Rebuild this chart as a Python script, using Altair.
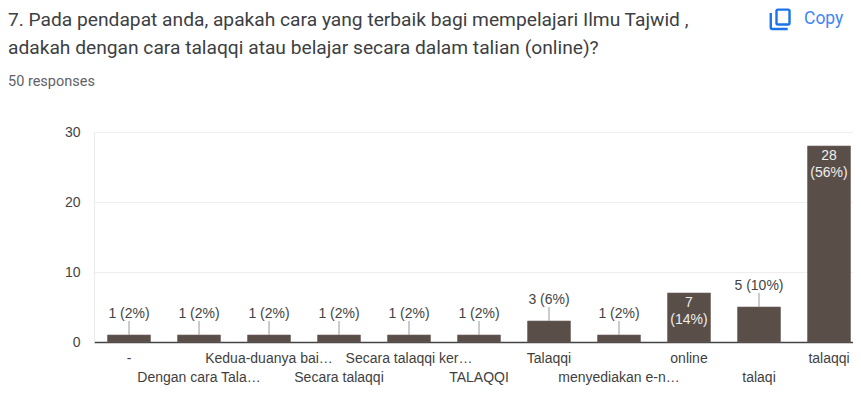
import altair as alt
import pandas as pd

title_lines = [
    "7. Pada pendapat anda, apakah cara yang terbaik bagi mempelajari Ilmu Tajwid ,",
    "adakah dengan cara talaqqi atau belajar secara dalam talian (online)?",
]
subtitle = "50 responses"
categories = ["-", "Dengan cara Tala…", "Kedua-duanya bai…", "Secara talaqqi",
              "Secara talaqqi ker…", "TALAQQI", "Talaqqi", "menyediakan e-n…",
              "online", "talaqi", "talaqqi"]
counts = [1, 1, 1, 1, 1, 1, 3, 1, 7, 5, 28]
percents = [2, 2, 2, 2, 2, 2, 6, 2, 14, 10, 56]
second_row = ["Dengan cara Tala…", "Secara talaqqi", "TALAQQI", "menyediakan e-n…", "talaqi"]
y_ticks = [0, 5, 10, 15, 20, 25, 30]

df = pd.DataFrame({"cat": categories, "count": counts, "pct": percents})
df["outside"] = df["count"].astype(str) + " (" + df["pct"].astype(str) + "%)"
df["inside"] = df["count"].astype(str) + "\n(" + df["pct"].astype(str) + "%)"

FONT = "Liberation Sans"
row2_js = "[" + ",".join("'" + s + "'" for s in second_row) + "]"

x = alt.X("cat:N", sort=categories, title=None,
          scale=alt.Scale(paddingInner=0.386, paddingOuter=0.1145, align=0.844),
          axis=alt.Axis(labelAngle=0, labelFont=FONT, labelFontSize=14, labelColor="#3f3f3f",
                        labelOverlap=False, labelLimit=0, ticks=False, labelPadding=9,
                        labelLineHeight=19, domainColor="#444444", domainWidth=1.5,
                        labelExpr=f"indexof({row2_js}, datum.value) >= 0 ? ['', datum.value] : datum.value"))
y = alt.Y("count:Q", title=None, scale=alt.Scale(domain=[0, 30], nice=False),
          axis=alt.Axis(values=y_ticks, ticks=False, labelFont=FONT, labelFontSize=14,
                        labelColor="#444444", labelPadding=14, domainColor="#ececec",
                        labelExpr="datum.value % 10 == 0 ? datum.label : ''",
                        gridColor={"condition": {"test": "datum.value % 10 == 0", "value": "#eeeeee"},
                                   "value": "#f5f5f5"},
                        gridWidth=1.2))

base = alt.Chart(df)
bars = base.mark_bar(color="#5a4e49", stroke="#6e6360", strokeWidth=0.6).encode(x=x, y=y)
short = base.transform_filter("datum.count <= 5")
tall = base.transform_filter("datum.count > 5")
leaders = short.transform_calculate(top="datum.count + 2").mark_rule(color="#999999", strokeWidth=1).encode(
    x=alt.X("cat:N", sort=categories), y=alt.Y("count:Q"), y2="top:Q")
out_text = short.transform_calculate(top="datum.count + 2").mark_text(
    font=FONT, fontSize=14, color="#444444", baseline="bottom", dy=0).encode(
    x=alt.X("cat:N", sort=categories), y=alt.Y("top:Q"), text="outside:N")
in_text = tall.mark_text(font=FONT, fontSize=14, color="#eeeeee", baseline="top", dy=3,
                         lineBreak="\n", lineHeight=17).encode(
    x=alt.X("cat:N", sort=categories), y=alt.Y("count:Q"), text="inside:N")

copy_icon = "M -0.25 -0.5 Q -0.25 -0.6 -0.15 -0.6 L 0.58 -0.6 Q 0.68 -0.6 0.68 -0.5 L 0.68 0.36 Q 0.68 0.46 0.58 0.46 L -0.15 0.46 Q -0.25 0.46 -0.25 0.36 Z M -0.66 -0.36 L -0.66 0.68 Q -0.66 0.79 -0.55 0.79 L 0.55 0.79"
icon = base.transform_filter("datum.cat == '-'").mark_point(
    shape=copy_icon, size=784, filled=False, stroke="#1a73e8", strokeWidth=2.4, opacity=1, clip=False
).encode(x=alt.value(686), y=alt.value(-114))
copy_text = base.transform_filter("datum.cat == '-'").mark_text(
    text="Copy", font="Roboto", fontSize=17.5, color="#4285f4", align="left", baseline="middle", clip=False
).encode(x=alt.value(710), y=alt.value(-113))

chart = alt.layer(bars, leaders, out_text, in_text, icon, copy_text).properties(
    width=759, height=210,
    autosize=alt.AutoSizeParams(type="none"),
    padding={"left": 86, "top": 124, "right": 0, "bottom": 57},
    title=alt.TitleParams(text=title_lines, subtitle=subtitle, anchor="start", frame="group", dx=-86,
                          font="Roboto", fontSize=19.2, fontWeight="normal", color="#3c4043",
                          lineHeight=28, subtitleFont="Roboto", subtitleFontSize=14.5,
                          subtitleColor="#5f6368", subtitleFontWeight="normal", subtitlePadding=17, offset=-84)
).configure_view(stroke=None)

chart.save("out.html", embed_options={"renderer": "svg", "actions": False})
